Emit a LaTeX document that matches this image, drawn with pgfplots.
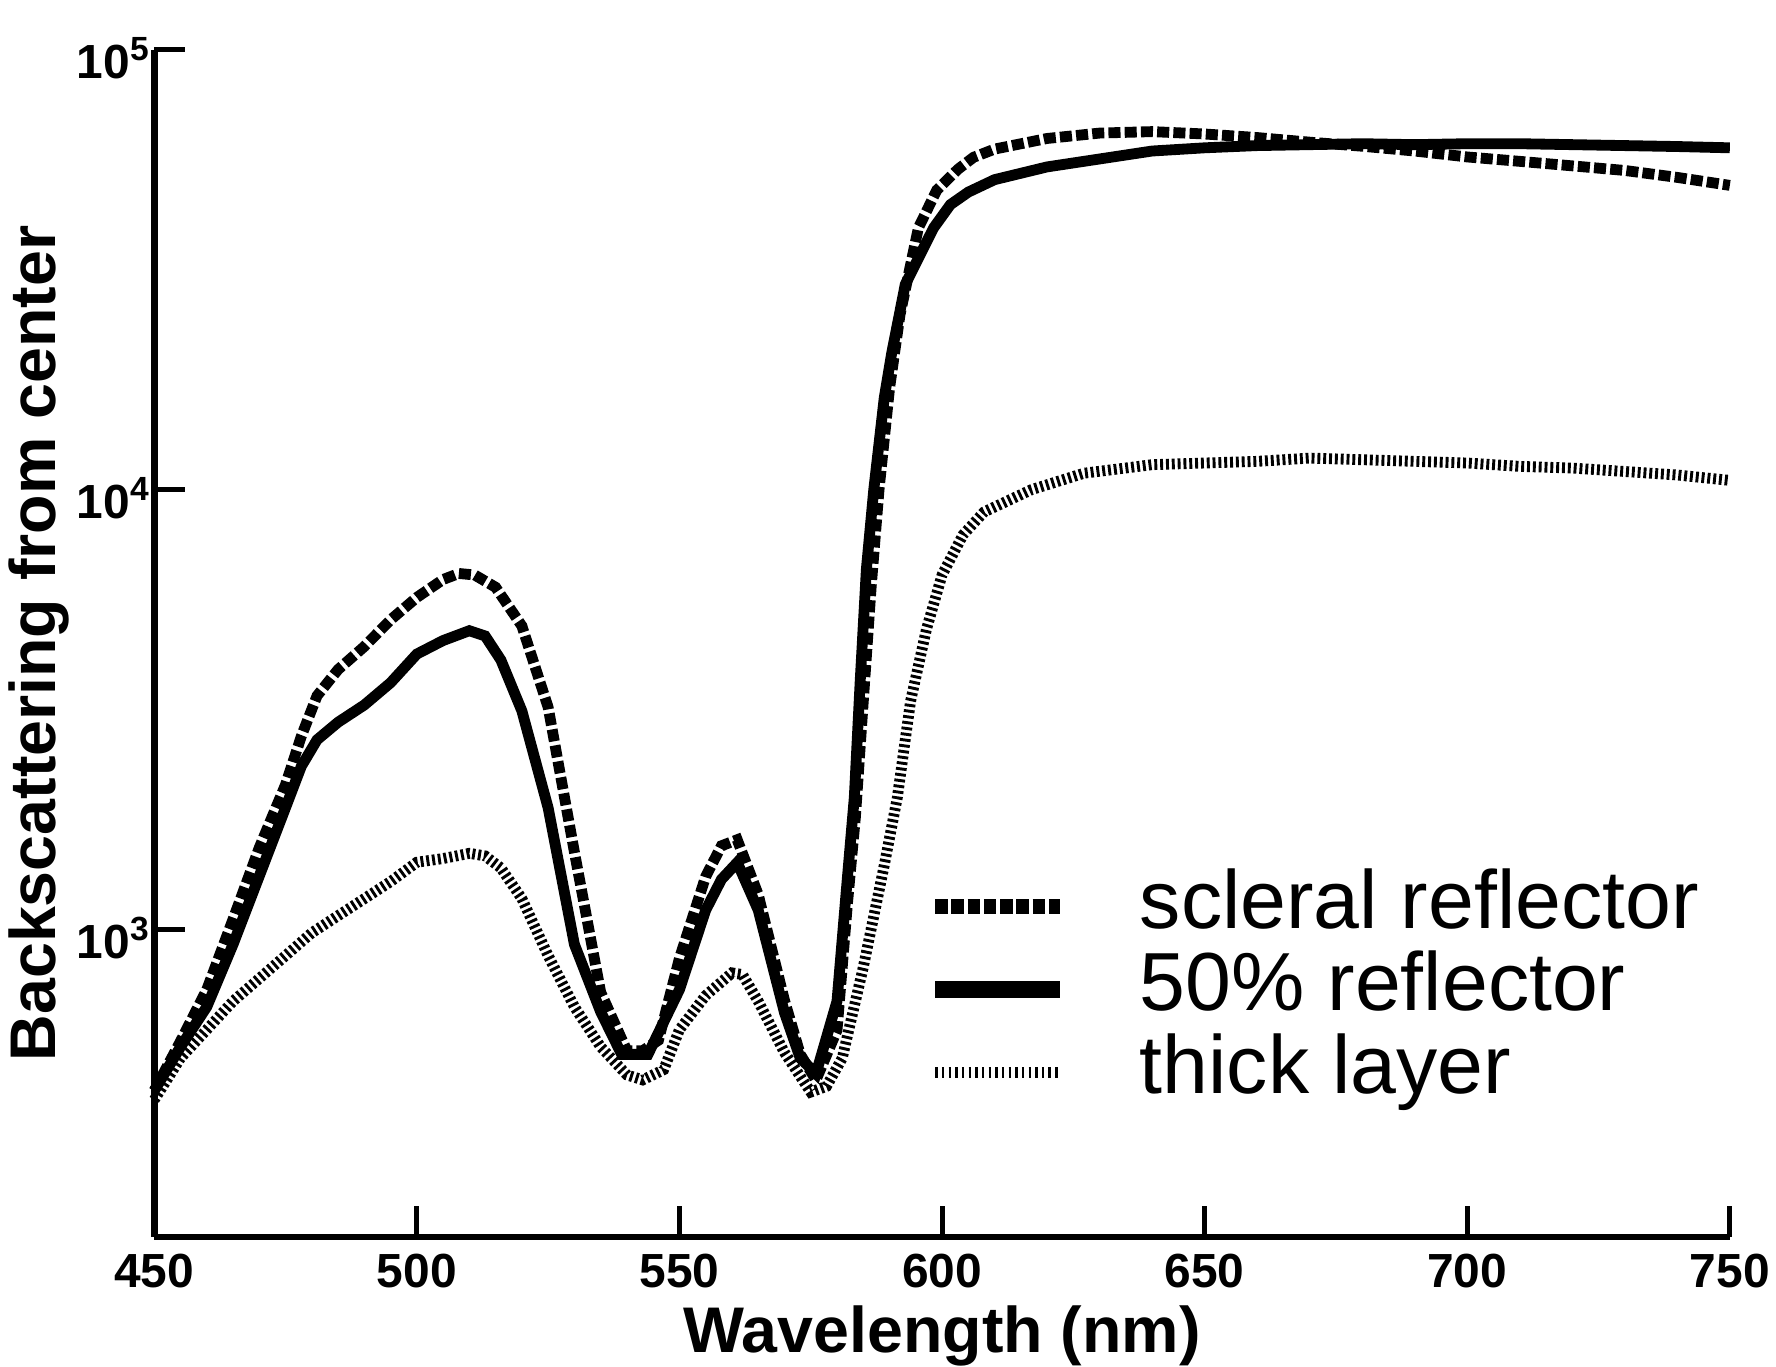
\documentclass[border=0pt]{standalone}
\usepackage{fontspec}
\setmainfont{Liberation Sans}
\usepackage{pgfplots}
\usepackage{pgfplotstable}
\pgfplotsset{compat=1.18}

% scleral reflector
\pgfplotstableread{
nm y
450 430
455 557
460 730
465 1055
470 1535
475 2135
478 2750
481 3400
485 3900
490 4400
495 5060
500 5690
505 6250
508 6450
511 6400
515 6000
520 4900
525 3200
530 1500
535 720
540 530
543 530
546 560
550 860
555 1320
558 1550
561 1600
565 1200
570 690
573 520
576 455
580 590
582 1150
583.5 1800
585 3300
586.5 6000
588 10000
590 17000
592 25000
595.5 39400
599 48000
603 53500
606 57000
610 59500
620 62900
630 64700
640 65200
650 64400
660 63200
670 61700
680 60400
690 58900
700 57100
710 55800
720 54500
730 53200
740 51300
750 49200
}\scleral

% 50% reflector
\pgfplotstableread{
nm y
450 430
455 541
460 667
465 925
470 1323
475 1893
478 2350
481 2700
485 2960
490 3240
495 3640
500 4230
505 4540
510 4780
513 4650
516 4100
520 3140
525 1890
530 925
535 650
539 520
544 520
550 730
555 1107
558 1300
561 1420
565 1107
570 647
573 510
576 470
580 687
582 1320
583.3 2000
584.4 3640
585.6 6610
587 10000
589 16200
590.4 20400
593 29300
598.4 39400
601.6 44500
605 47500
610 50700
620 54200
630 56500
640 58900
650 59900
660 60600
670 60900
680 61200
690 60900
700 61200
710 61200
720 60900
730 60600
740 60300
750 59900
}\half

% thick layer
\pgfplotstableread{
nm y
450 410
455 510
460 592
465 687
470 774
475 872
480 983
485 1075
490 1175
495 1285
500 1422
505 1450
510 1490
513 1470
516 1380
520 1175
525 872
530 667
535 541
540 467
543 455
547 480
550 592
555 708
560 797
562 790
565 687
570 525
575 427
578 440
581 510
585 820
589 1400
591.5 2000
594 3300
597 4800
600 6400
604 7900
608 8900
617 10000
627 10900
640 11400
650 11500
660 11600
670 11800
680 11700
690 11600
700 11500
710 11300
720 11200
730 11000
740 10800
750 10500
}\thick

\begin{document}
\begin{tikzpicture}
\begin{axis}[
    scale only axis,
    width=13.3cm, height=10.02cm,
    xmin=450, xmax=750,
    ymode=log, ymin=200, ymax=1e5,
    clip=false,
    axis x line=bottom, axis y line=left,
    axis line style={line width=1.6pt, -},
    xtick={450,500,...,750},
    ytick={1e3,1e4,1e5},
    yticklabels={10\textsuperscript{3},10\textsuperscript{4},10\textsuperscript{5}},
    yminorticks=false,
    tick align=inside,
    major tick length=7.5pt,
    every tick/.style={line width=1.2pt, black},
    /pgf/number format/assume math mode=true,
    /pgf/number format/1000 sep={},
    tick label style={font=\fontsize{11.5}{12}\selectfont\bfseries},
    yticklabel style={xshift=2.7pt, yshift=-2pt},
    xticklabel style={inner sep=1.5pt, yshift=-2.3pt},
    label style={font=\fontsize{15.5}{16}\selectfont\bfseries},
    xlabel={Wavelength (nm)},
    ylabel={Backscattering from center},
    xlabel style={inner sep=0pt, yshift=-2.8pt},
    ylabel style={yshift=-3.6pt, inner sep=2pt},
    extra description/.code={\path (rel axis cs:0,1) ++(0pt,12pt);},
    legend image code/.code={\draw[#1] (0pt,0pt) -- (30pt,0pt);},
    legend cell align=left,
    legend style={
        at={(rel axis cs:0.49,0.311)}, anchor=north west,
        draw=none, fill=none, inner sep=0pt, outer sep=0pt,
        font=\fontsize{19.8}{20}\selectfont,
        row sep=1.2pt,
        nodes={inner sep=0pt, text height=14.5pt, text depth=4.2pt},
        /tikz/every odd column/.append style={column sep=17pt},
    },
]
\addplot[black, line width=2.6pt, dash pattern=on 2.9pt off 1pt,
    legend image post style={line width=3.7pt, dash pattern=on 3pt off 0.9pt}]
    table[x=nm, y=y] {\scleral};
\addlegendentry{scleral reflector}
\addplot[black, line width=2.6pt,
    legend image post style={line width=4.3pt}]
    table[x=nm, y=y] {\half};
\addlegendentry{50\% reflector}
\addplot[black, line width=2.6pt, dash pattern=on 0.7pt off 0.7pt,
    legend image post style={line width=2.8pt, dash pattern=on 0.6pt off 1pt}]
    table[x=nm, y=y] {\thick};
\addlegendentry{thick layer}
\end{axis}
\end{tikzpicture}
\end{document}
